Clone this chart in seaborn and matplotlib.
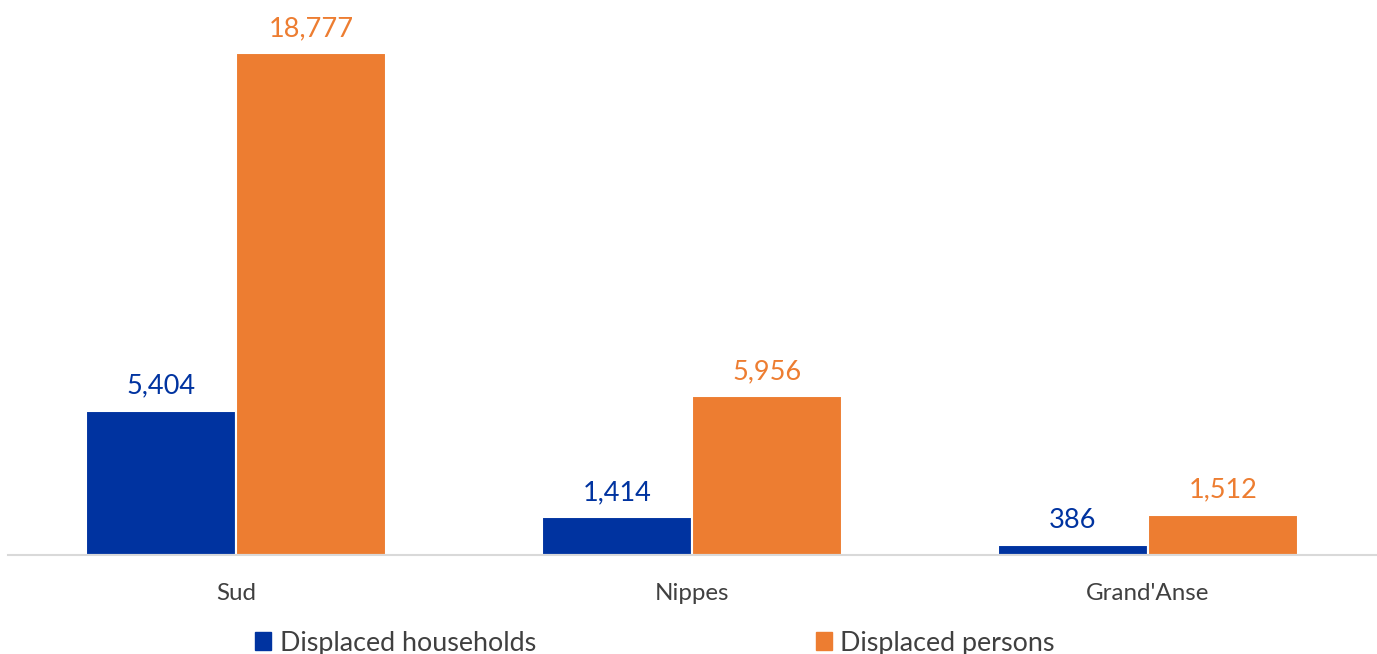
import pandas as pd
import seaborn as sns
import matplotlib.pyplot as plt

# data
departments = ["Sud", "Nippes", "Grand'Anse"]
households = [5404, 1414, 386]
persons = [18777, 5956, 1512]
series = ["Displaced households", "Displaced persons"]
colors = ["#0033A0", "#ED7D31"]

df = pd.DataFrame({
    "dept": departments * 2,
    "value": households + persons,
    "series": [series[0]] * 3 + [series[1]] * 3,
})

plt.rcParams['font.family'] = ['Lato', 'DejaVu Sans']

fig = plt.figure(figsize=(13.77, 6.54), dpi=100)
ax = fig.add_axes([8 / 1377, 1 - 555 / 654, 1368 / 1377, 555 / 654])

sns.barplot(data=df, x="dept", y="value", hue="series", palette=colors,
            saturation=1, width=0.66, edgecolor="white", linewidth=1.5,
            legend=False, ax=ax)

ax.set_xlim(-0.5, 2.5)
ax.set_ylim(0, 18777 * 555 / 502)

# value labels
for cont, c in zip(ax.containers, colors):
    ax.bar_label(cont, labels=[f"{v:,.0f}" for v in cont.datavalues],
                 padding=8.5, color=c, fontsize=19.5)

# 坐标轴样式
for s in ["top", "right", "left"]:
    ax.spines[s].set_visible(False)
ax.spines["bottom"].set_color("#d9d9d9")
ax.spines["bottom"].set_linewidth(1.5)
ax.set_yticks([])
ax.tick_params(axis="x", length=0, pad=20, labelsize=17.4, labelcolor="#404040")
ax.set_xlabel("")
ax.set_ylabel("")

# legend
handles = [plt.Rectangle((0, 0), 1, 1, color=c) for c in colors]
fig.legend(handles, series, loc="center", bbox_to_anchor=(655 / 1377, 1 - 643 / 654),
           ncol=2, frameon=False, fontsize=19.4, labelcolor="#404040",
           handlelength=0.6, handleheight=0.6, handletextpad=0.3, columnspacing=10.4)

fig.savefig("out.png", dpi=100)
